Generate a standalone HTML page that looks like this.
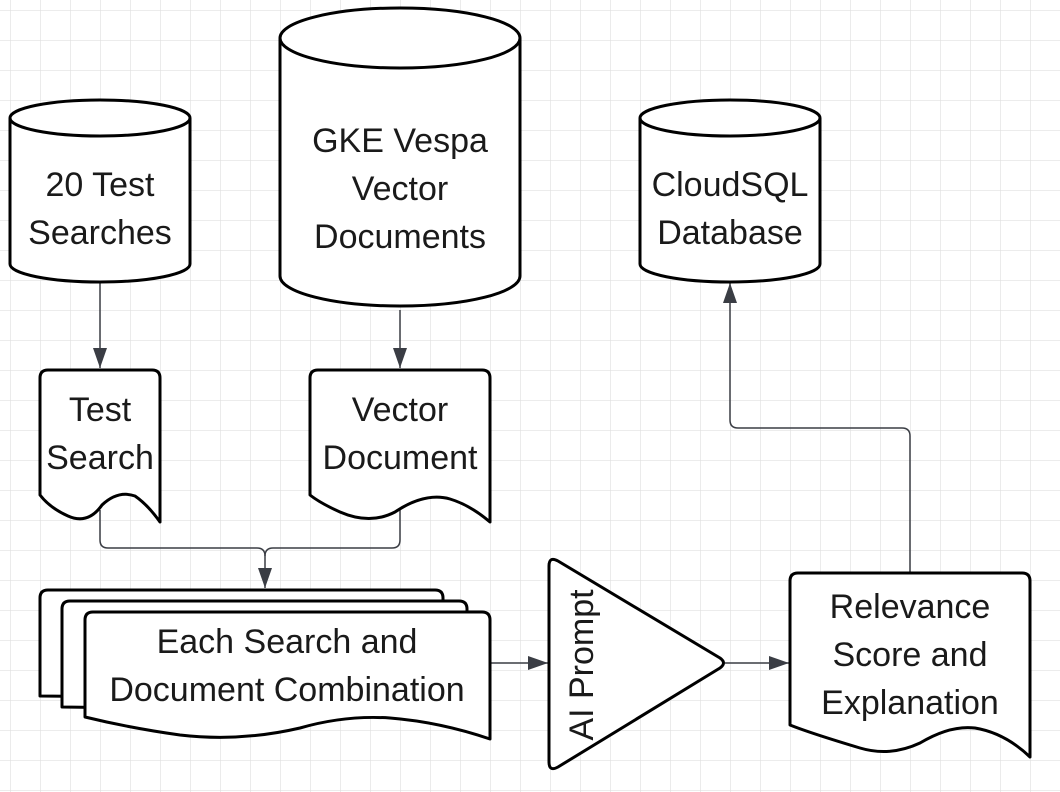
<!DOCTYPE html>
<html><head><meta charset="utf-8"><style>
html,body{margin:0;padding:0;background:#fff}
svg{display:block}
text{font-family:"Liberation Sans","DejaVu Sans",sans-serif;font-size:34px;fill:#1a1a1a;text-anchor:middle}
</style></head><body>
<svg width="1060" height="792" viewBox="0 0 1060 792" xmlns="http://www.w3.org/2000/svg">
<defs>
<pattern id="g" x="10" y="10" width="30" height="30" patternUnits="userSpaceOnUse">
<path d="M0 0H30M0 0V30" stroke="#e0e0e0" stroke-width="1.3" fill="none"/>
</pattern>
<marker id="a" viewBox="0 0 10 10" refX="10" refY="5" markerWidth="20" markerHeight="14" markerUnits="userSpaceOnUse" orient="auto" preserveAspectRatio="none"><path d="M0 0L10 5L0 10z" fill="#3a3d44"/></marker>
</defs>
<rect width="1060" height="792" fill="url(#g)"/>
<g fill="none" stroke="#3a3d44" stroke-width="1.5">
<path d="M100 282V368" marker-end="url(#a)"/>
<path d="M400 310V368" marker-end="url(#a)"/>
<path d="M100 510V540Q100 548 108 548H257Q265 548 265 556V588" marker-end="url(#a)"/>
<path d="M400 510V540Q400 548 392 548H273Q265 548 265 556"/>
<path d="M490 663H548" marker-end="url(#a)"/>
<path d="M725 663H789" marker-end="url(#a)"/>
<path d="M910 572V436Q910 428 902 428H738Q730 428 730 420V283" marker-end="url(#a)"/>
</g>
<g fill="#fff" stroke="#000" stroke-width="3" stroke-linejoin="round">
<path d="M10 118V264A90 18 0 0 0 190 264V118"/><ellipse cx="100" cy="118" rx="90" ry="18"/>
<path d="M280 38V276A120 30 0 0 0 520 276V38"/><ellipse cx="400" cy="38" rx="120" ry="30"/>
<path d="M640 118V264A90 18 0 0 0 820 264V118"/><ellipse cx="730" cy="118" rx="90" ry="18"/>
<path d="M40 378Q40 370 48 370H152Q160 370 160 378V522Q148 505 135 496Q118 490 102 505Q88 525 68 516Q50 508 40 495Z"/>
<path d="M310 378Q310 370 318 370H482Q490 370 490 378V522Q470 505 450 499Q425 492 395 512Q370 525 340 512Q320 503 310 495Z"/>
<path d="M798 573H1022Q1030 573 1030 581V757Q1005 733 975 728Q950 725 920 743Q890 757 860 748Q810 733 790 725V581Q790 573 798 573Z"/>
<path d="M48 590H435Q443 590 443 598V700L40 696V598Q40 590 48 590Z"/>
<path d="M70 601H459Q467 601 467 609V712L62 707V609Q62 601 70 601Z"/>
<path d="M93 612H482Q490 612 490 620V739Q440 722 390 718Q345 715 300 728Q240 742 180 735Q130 728 85 717V620Q85 612 93 612Z"/>
<path d="M549 566Q549 556 558 561L720 658Q727 663 720 668L558 767Q549 772 549 762Z"/>
</g>
<text x="100" y="196">20 Test</text>
<text x="100" y="244">Searches</text>
<text x="400" y="152">GKE Vespa</text>
<text x="400" y="200">Vector</text>
<text x="400" y="248">Documents</text>
<text x="730" y="196">CloudSQL</text>
<text x="730" y="244">Database</text>
<text x="100" y="421">Test</text>
<text x="100" y="469">Search</text>
<text x="400" y="421">Vector</text>
<text x="400" y="469">Document</text>
<text x="287" y="653">Each Search and</text>
<text x="287" y="701">Document Combination</text>
<text x="910" y="618">Relevance</text>
<text x="910" y="666">Score and</text>
<text x="910" y="714">Explanation</text>
<text transform="translate(593 665) rotate(-90)">AI Prompt</text>
</svg>
</body></html>
